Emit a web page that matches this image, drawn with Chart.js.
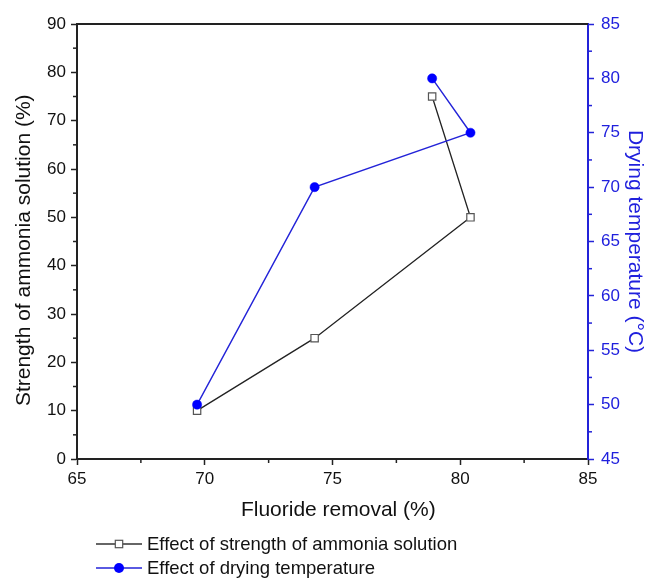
<!DOCTYPE html>
<html>
<head>
<meta charset="utf-8">
<script src="https://cdn.jsdelivr.net/npm/chart.js@4/dist/chart.umd.min.js"></script>
<style>
  html, body { margin: 0; padding: 0; background: #fff; }
  #wrap { position: relative; width: 651px; height: 579px; overflow: hidden; }
  canvas { position: absolute; left: 0; top: 0; }
  .leg { position: absolute; left: 96px; height: 24px; display: flex; align-items: center;
         font-family: "Liberation Sans", Arial, sans-serif; font-size: 18.5px; color: #111; white-space: nowrap; }
  .leg svg { margin-right: 5px; }
</style>
</head>
<body>
<div id="wrap">
  <canvas id="c" width="651" height="579"></canvas>
  <div class="leg" style="top:532px;">
    <svg width="46" height="16" viewBox="0 0 46 16"><line x1="0" y1="8" x2="46" y2="8" stroke="#333" stroke-width="1.3"/><rect x="19.3" y="4.3" width="7.4" height="7.4" fill="#fff" stroke="#555" stroke-width="1.2"/></svg>
    <span>Effect of strength of ammonia solution</span>
  </div>
  <div class="leg" style="top:556px;">
    <svg width="46" height="16" viewBox="0 0 46 16"><line x1="0" y1="8" x2="46" y2="8" stroke="#2323d8" stroke-width="1.3"/><circle cx="23" cy="8" r="5" fill="#0000ff"/></svg>
    <span>Effect of drying temperature</span>
  </div>
</div>
<script>
// ---- data ----
const fluorideAmmonia = [69.7, 74.3, 80.4, 78.9];
const ammoniaStrength = [10, 25, 50, 75];
const fluorideDrying = [69.7, 74.3, 80.4, 78.9];
const dryingTemp = [50, 70, 75, 80];

const xTicks = [65, 70, 75, 80, 85];
const yLeftTicks = [0, 10, 20, 30, 40, 50, 60, 70, 80, 90];
const yRightTicks = [45, 50, 55, 60, 65, 70, 75, 80, 85];

const seriesNames = ['Effect of strength of ammonia solution', 'Effect of drying temperature'];
const xTitle = '  Fluoride removal (%)';
const yLeftTitle = 'Strength of ammonia solution (%)   ';
const yRightTitle = 'Drying temperature (°C)';

const BLUE = '#0000ff';
const BLUE_LINE = '#2323d8';
const BLUE_TEXT = '#2020dd';
const FONT = '"Liberation Sans", Arial, sans-serif';

const toPts = (xs, ys) => xs.map((x, i) => ({ x: x, y: ys[i] }));

// minor ticks + top frame line
const framePlugin = {
  id: 'frame',
  afterDraw(chart) {
    const ctx = chart.ctx;
    const ca = chart.chartArea;
    const sx = chart.scales.x, sy = chart.scales.y, sy1 = chart.scales.y1;
    ctx.save();
    ctx.strokeStyle = '#222';
    ctx.lineWidth = 2;
    ctx.beginPath(); ctx.moveTo(ca.left - 1, ca.top); ctx.lineTo(ca.right, ca.top); ctx.stroke();
    ctx.lineWidth = 1.5;
    for (let i = 0; i < xTicks.length - 1; i++) {
      const v = (xTicks[i] + xTicks[i + 1]) / 2;
      const px = sx.getPixelForValue(v);
      ctx.beginPath(); ctx.moveTo(px, ca.bottom); ctx.lineTo(px, ca.bottom + 4); ctx.stroke();
    }
    for (let i = 0; i < yLeftTicks.length - 1; i++) {
      const v = (yLeftTicks[i] + yLeftTicks[i + 1]) / 2;
      const py = sy.getPixelForValue(v);
      ctx.beginPath(); ctx.moveTo(ca.left, py); ctx.lineTo(ca.left - 4, py); ctx.stroke();
    }
    ctx.strokeStyle = BLUE_LINE;
    for (let i = 0; i < yRightTicks.length - 1; i++) {
      const v = (yRightTicks[i] + yRightTicks[i + 1]) / 2;
      const py = sy1.getPixelForValue(v);
      ctx.beginPath(); ctx.moveTo(ca.right, py); ctx.lineTo(ca.right + 4, py); ctx.stroke();
    }
    ctx.restore();
  }
};

new Chart(document.getElementById('c'), {
  type: 'scatter',
  data: {
    datasets: [
      {
        label: seriesNames[1],
        data: toPts(fluorideDrying, dryingTemp),
        yAxisID: 'y1',
        showLine: true,
        borderColor: BLUE_LINE,
        borderWidth: 1.4,
        pointStyle: 'circle',
        pointRadius: 4.6,
        pointBackgroundColor: BLUE,
        pointBorderColor: BLUE,
        pointBorderWidth: 0.5,
        order: 0
      },
      {
        label: seriesNames[0],
        data: toPts(fluorideAmmonia, ammoniaStrength),
        yAxisID: 'y',
        showLine: true,
        borderColor: '#222',
        borderWidth: 1.3,
        pointStyle: 'rect',
        pointRadius: 5.2,
        pointBackgroundColor: '#fff',
        pointBorderColor: '#555',
        pointBorderWidth: 1.2,
        order: 1
      }
    ]
  },
  options: {
    responsive: false,
    animation: false,
    layout: { padding: { top: 24, bottom: 56, left: 0, right: 0 } },
    plugins: { legend: { display: false }, tooltip: { enabled: false } },
    scales: {
      x: {
        type: 'linear', position: 'bottom', min: 65, max: 85,
        afterBuildTicks: (s) => { s.ticks = xTicks.map(v => ({ value: v })); },
        afterFit: (s) => { s.height = 64; },
        grid: { drawOnChartArea: false, drawTicks: true, tickLength: 6, tickWidth: 1.5, tickColor: '#222' },
        border: { display: true, color: '#222', width: 2 },
        ticks: { color: '#111', font: { family: FONT, size: 17 }, padding: 4, maxRotation: 0, autoSkip: false },
        title: { display: true, text: xTitle, color: '#111', font: { family: FONT, size: 21 }, padding: { top: 0, bottom: 0 } }
      },
      y: {
        type: 'linear', position: 'left', min: 0, max: 90,
        afterBuildTicks: (s) => { s.ticks = yLeftTicks.map(v => ({ value: v })); },
        afterFit: (s) => { s.width = 77; },
        grid: { drawOnChartArea: false, drawTicks: true, tickLength: 6, tickWidth: 1.5, tickColor: '#222' },
        border: { display: true, color: '#222', width: 2 },
        ticks: { color: '#111', font: { family: FONT, size: 17 }, padding: 5, autoSkip: false },
        title: { display: true, text: yLeftTitle, color: '#111', font: { family: FONT, size: 21 }, padding: { top: 12, bottom: 0 } }
      },
      y1: {
        type: 'linear', position: 'right', min: 45, max: 85,
        afterBuildTicks: (s) => { s.ticks = yRightTicks.map(v => ({ value: v })); },
        afterFit: (s) => { s.width = 63; },
        grid: { drawOnChartArea: false, drawTicks: true, tickLength: 6, tickWidth: 1.5, tickColor: BLUE_LINE },
        border: { display: true, color: BLUE_LINE, width: 2 },
        ticks: { color: BLUE_TEXT, font: { family: FONT, size: 17 }, padding: 7, autoSkip: false },
        title: { display: true, text: yRightTitle, color: BLUE_TEXT, font: { family: FONT, size: 21 }, padding: { top: 3.5, bottom: 0 } }
      }
    }
  },
  plugins: [framePlugin]
});
</script>
</body>
</html>
